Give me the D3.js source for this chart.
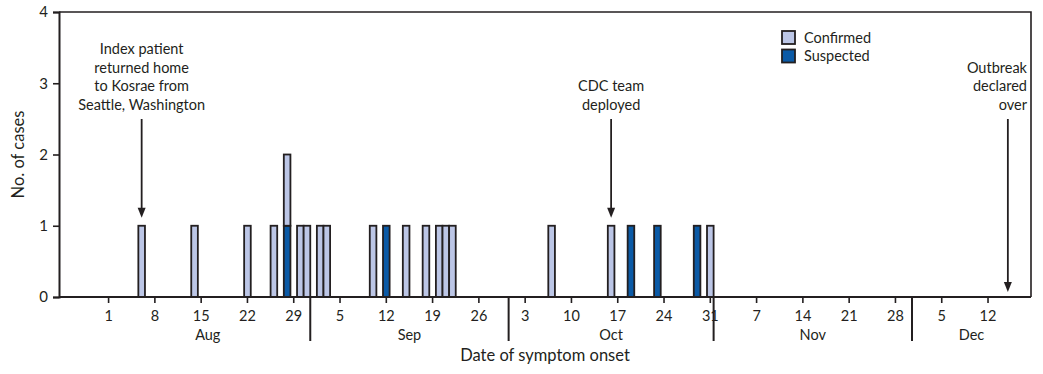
<!DOCTYPE html>
<html>
<head>
<meta charset="utf-8">
<script src="https://cdn.jsdelivr.net/npm/d3@7"></script>
<style>
  body { margin: 0; background: #fff; }
  svg { display: block; }
</style>
</head>
<body>
<div class="chart"></div>
<script>
// case onset dates (month is 0-based), one case each
const confirmedDates = [
  [7, 6], [7, 14], [7, 22], [7, 26], [7, 28], [7, 30], [7, 31],
  [8, 2], [8, 3], [8, 10], [8, 15], [8, 18], [8, 20], [8, 21], [8, 22],
  [9, 7], [9, 16], [9, 31]
];
const suspectedDates = [[7, 28], [8, 12], [9, 19], [9, 23], [9, 29]];
const monthNames = ["Aug", "Sep", "Oct", "Nov", "Dec"];
const yTicks = [0, 1, 2, 3, 4];
const notes = [
  { date: [7, 6], lines: ["Index patient", "returned home", "to Kosrae from", "Seattle, Washington"], to: 1 },
  { date: [9, 16], lines: ["CDC team", "deployed"], to: 1 },
  { date: [11, 15], lines: ["Outbreak", "declared", "over"], to: 0 }
];

const year = 2016;
const day = ([m, d]) => new Date(Date.UTC(year, m, d));

const width = 1043, height = 374;
const margin = { top: 12, right: 12, bottom: 77, left: 59 };
const ink = "#231f20";
const font = "Lato, sans-serif";

const x = d3.scaleUtc()
  .domain([day([6, 25]), day([11, 19])])
  .range([margin.left, width - margin.right]);
const y = d3.scaleLinear()
  .domain([0, 4])
  .range([height - margin.bottom, margin.top]);
const dayW = x(day([7, 2])) - x(day([7, 1]));
const mid = d => x(d) + dayW / 2;

// stack: suspected at the bottom, confirmed on top
const counts = new Map();
const bars = [];
suspectedDates.concat(confirmedDates).forEach((d, i) => {
  const key = d.join("-");
  const base = counts.get(key) || 0;
  counts.set(key, base + 1);
  bars.push({ date: day(d), y0: base, y1: base + 1, type: i < suspectedDates.length ? "Suspected" : "Confirmed" });
});
const color = d3.scaleOrdinal(["Confirmed", "Suspected"], ["#bcc6e6", "#0b5aa6"]);

const svg = d3.select(".chart").append("svg")
  .attr("width", width)
  .attr("height", height)
  .style("font-family", font)
  .style("fill", ink);

// bars
svg.append("g").selectAll("rect")
  .data(bars)
  .join("rect")
    .attr("x", d => x(d.date))
    .attr("width", dayW)
    .attr("y", d => y(d.y1))
    .attr("height", d => y(d.y0) - y(d.y1))
    .attr("fill", d => color(d.type))
    .attr("stroke", ink)
    .attr("stroke-width", 1.8);

// frame
const [x0, x1] = x.range();
svg.append("path")
  .attr("d", `M${x0},${y(4)}H${x1}V${y(0)}`)
  .attr("fill", "none")
  .attr("stroke", ink)
  .attr("stroke-width", 1.6);

// y axis
const yAxis = svg.append("g")
  .attr("transform", `translate(${x0},0)`)
  .call(d3.axisLeft(y).tickValues(yTicks).tickFormat(d3.format("d")).tickSize(6).tickPadding(5));
yAxis.select(".domain").attr("stroke", ink).attr("stroke-width", 2);
yAxis.selectAll(".tick line").attr("stroke", ink).attr("stroke-width", 1.6);
yAxis.selectAll("text").attr("fill", ink).style("font-family", font).style("font-size", "15px");

svg.append("text")
  .attr("transform", `translate(24,${(y(0) + y(4)) / 2}) rotate(-90)`)
  .attr("text-anchor", "middle")
  .style("font-size", "16.5px")
  .text("No. of cases");

// x axis: weekly ticks at day centres
const weekTicks = d3.utcDay.range(day([7, 1]), day([11, 13]), 7);
const xAxis = svg.append("g").attr("transform", `translate(0,${y(0)})`);
xAxis.append("line")
  .attr("x1", x0).attr("x2", x1)
  .attr("stroke", ink).attr("stroke-width", 2);
const tick = xAxis.selectAll("g.tick")
  .data(weekTicks)
  .join("g")
    .attr("class", "tick")
    .attr("transform", d => `translate(${mid(d)},0)`);
tick.append("line").attr("y2", 6).attr("stroke", ink).attr("stroke-width", 1.6);
tick.append("text")
  .attr("y", 24)
  .attr("text-anchor", "middle")
  .style("font-size", "14.5px")
  .text(d3.utcFormat("%-d"));

// month separators and labels
const months = monthNames.map((name, i) => {
  const start = day([7 + i, 1]), end = day([8 + i, 1]);
  const a = Math.max(x(start), x0), b = Math.min(x(end), x1);
  return { name, start, center: (a + b) / 2 };
});
xAxis.selectAll("line.sep")
  .data(months.slice(1))
  .join("line")
    .attr("class", "sep")
    .attr("x1", d => x(d.start)).attr("x2", d => x(d.start))
    .attr("y1", 0).attr("y2", 44)
    .attr("stroke", ink).attr("stroke-width", 2);
xAxis.selectAll("text.month")
  .data(months)
  .join("text")
    .attr("class", "month")
    .attr("x", d => d.center)
    .attr("y", 43)
    .attr("text-anchor", "middle")
    .style("font-size", "14.5px")
    .text(d => d.name);

svg.append("text")
  .attr("x", (x0 + x1) / 2)
  .attr("y", 361)
  .attr("text-anchor", "middle")
  .style("font-size", "16.5px")
  .text("Date of symptom onset");

// legend
const legend = svg.append("g").selectAll("g")
  .data(color.domain())
  .join("g")
    .attr("transform", (d, i) => `translate(782,${31 + i * 18.5})`);
legend.append("rect")
  .attr("width", 13).attr("height", 13)
  .attr("fill", d => color(d))
  .attr("stroke", ink).attr("stroke-width", 1.8);
legend.append("text")
  .attr("x", 22).attr("y", 11.5)
  .style("font-size", "14.5px")
  .text(d => d);

// annotations with arrows
const lineTop = [54, 72.5, 91, 109.5];
const note = svg.append("g").selectAll("g")
  .data(notes)
  .join("g");
note.each(function(d) {
  const g = d3.select(this);
  const cx = mid(day(d.date));
  const last = d.date[0] === 11;
  const offset = lineTop.length - d.lines.length;
  g.selectAll("text")
    .data(d.lines)
    .join("text")
      .attr("x", last ? x1 - 4 : cx)
      .attr("y", (t, i) => lineTop[i + offset])
      .attr("text-anchor", last ? "end" : "middle")
      .style("font-size", "14.5px")
      .text(t => t);
  const tip = y(d.to) - (d.to ? 8 : 5);
  g.append("line")
    .attr("x1", cx).attr("x2", cx)
    .attr("y1", 119).attr("y2", tip - 8)
    .attr("stroke", ink).attr("stroke-width", 1.8);
  g.append("path")
    .attr("d", `M${cx - 4},${tip - 10}L${cx + 4},${tip - 10}L${cx},${tip}Z`)
    .attr("fill", ink);
});
</script>
</body>
</html>
